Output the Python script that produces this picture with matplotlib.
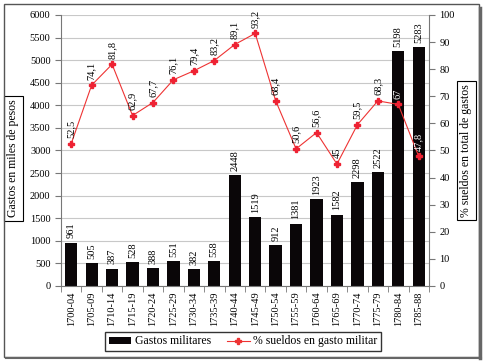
import matplotlib.pyplot as plt
from matplotlib.patches import Rectangle
from matplotlib.lines import Line2D

periods = ["1700-04", "1705-09", "1710-14", "1715-19", "1720-24", "1725-29",
           "1730-34", "1735-39", "1740-44", "1745-49", "1750-54", "1755-59",
           "1760-64", "1765-69", "1770-74", "1775-79", "1780-84", "1785-88"]
gastos = [961, 505, 387, 528, 388, 551, 382, 558, 2448, 1519, 912, 1381,
          1923, 1582, 2298, 2522, 5198, 5283]
sueldos = [52.5, 74.1, 81.8, 62.9, 67.7, 76.1, 79.4, 83.2, 89.1, 93.2, 68.4,
           50.6, 56.6, 45, 59.5, 68.3, 67, 47.8]

plt.rcParams['font.family'] = ['Liberation Serif', 'DejaVu Serif']
plt.rcParams['font.size'] = 7.5

fig = plt.figure(figsize=(4.89, 3.62), dpi=100)
ax = fig.add_axes([0.1247, 0.21, 0.7525, 0.7486])
x = list(range(len(periods)))

ax.bar(x, gastos, width=0.6, color='#0a0608', zorder=2)
for xi, g in zip(x, gastos):
    ax.annotate(f"{g}", (xi, g), xytext=(0, 3), textcoords='offset points',
                rotation=90, ha='center', va='bottom', fontsize=7.5)

ax.set_xlim(-0.5, len(periods) - 0.5)
ax.set_ylim(0, 6000)
ax.set_yticks(range(0, 6001, 500))
ax.yaxis.grid(True, color='#c8c8c8', lw=0.8, zorder=0)
ax.set_axisbelow(True)
ax.set_xticks(x)
ax.set_xticklabels(periods, rotation=90, fontsize=7.5)
ax.set_xticks([i + 0.5 for i in range(-1, len(periods))], minor=True)
ax.tick_params(axis='x', which='major', length=0, pad=4)
ax.tick_params(axis='x', which='minor', length=4, color='#777777', direction='out')
ax.tick_params(axis='y', length=4, color='#777777', direction='out')
for s in ['top', 'right']:
    ax.spines[s].set_visible(False)
for s in ['left', 'bottom']:
    ax.spines[s].set_color('#777777')
ax.set_ylabel("Gastos en miles de pesos", fontsize=8.5,
              bbox=dict(boxstyle='square,pad=0.3', fc='white', ec='black', lw=0.8))
ax.yaxis.set_label_coords(-0.113, 0.47)

ax2 = ax.twinx()
ax2.plot(x, sueldos, color='#ee3333', lw=0.8, marker='P', markersize=4.5,
         markerfacecolor='#ee2233', markeredgecolor='#ee2233', zorder=3)
for xi, s, g in zip(x, sueldos, gastos):
    lab = f"{s:g}".replace('.', ',')
    col = 'white' if s * 60 < g else 'black'
    ax2.annotate(lab, (xi, s), xytext=(0, 4), textcoords='offset points',
                 rotation=90, ha='center', va='bottom', fontsize=7.5, color=col)
ax2.set_ylim(0, 100)
ax2.set_yticks(range(0, 101, 10))
ax2.tick_params(axis='y', length=4, color='#777777', direction='out')
for s in ['top', 'left', 'bottom']:
    ax2.spines[s].set_visible(False)
ax2.spines['right'].set_color('#777777')
ax2.set_ylabel("% sueldos en total de gastos", fontsize=8.5,
               bbox=dict(boxstyle='square,pad=0.3', fc='white', ec='black', lw=0.8))
ax2.yaxis.set_label_coords(1.085, 0.5)

handles = [Rectangle((0, 0), 1, 1, fc='#0a0608'),
           Line2D([], [], color='#ee3333', lw=0.8, marker='P', markersize=4.5)]
fig.legend(handles, ["Gastos militares", "% sueldos en gasto militar"],
           loc='center', bbox_to_anchor=(0.497, 0.057), ncol=2, fontsize=8.5,
           frameon=True, fancybox=False, edgecolor='black', handlelength=1.9,
           handleheight=0.5, handletextpad=0.3, columnspacing=1.4,
           borderpad=0.3)

fig.add_artist(Rectangle((4 / 489, 5 / 362), 475 / 489, 353 / 362,
                         transform=fig.transFigure, fill=False,
                         edgecolor='#555555', lw=1))
fig.add_artist(Line2D([480 / 489, 480 / 489], [4 / 362, 354 / 362],
                      transform=fig.transFigure, color='#666666', lw=2.5))
fig.add_artist(Line2D([6 / 489, 481 / 489], [4 / 362, 4 / 362],
                      transform=fig.transFigure, color='#666666', lw=1.5))

fig.savefig("out.png", dpi=100)
